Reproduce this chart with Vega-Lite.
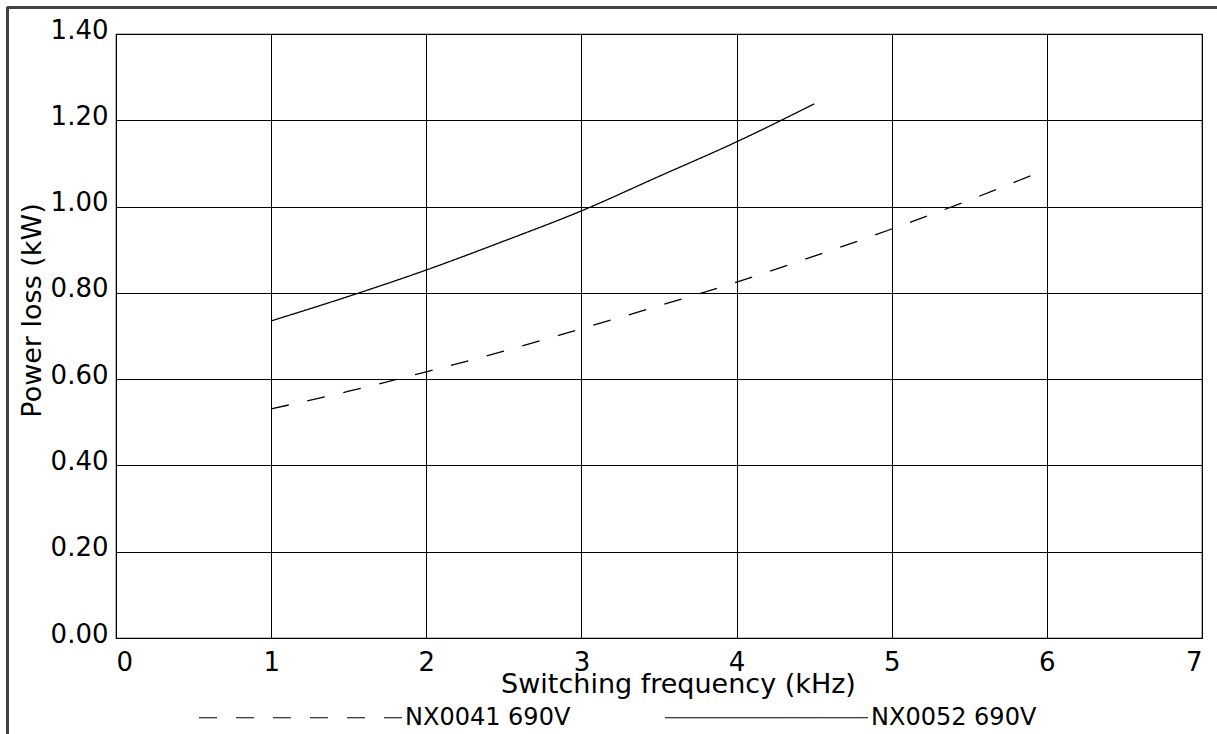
{
  "$schema": "https://vega.github.io/schema/vega-lite/v6.json",
  "width": 1086,
  "height": 604,
  "autosize": "none",
  "padding": {"left": 116, "top": 34, "right": 15, "bottom": 96},
  "background": "white",
  "config": {
    "font": "DejaVu Sans",
    "view": {"stroke": "black", "strokeWidth": 1.2},
    "axis": {
      "labelFont": "DejaVu Sans",
      "titleFont": "DejaVu Sans",
      "labelFontSize": 26,
      "titleFontSize": 27,
      "labelColor": "black",
      "titleColor": "black",
      "titleFontWeight": "normal",
      "gridColor": "black",
      "gridOpacity": 1,
      "gridWidth": 1,
      "domainColor": "black",
      "ticks": false
    },
    "legend": {
      "labelFont": "DejaVu Sans",
      "labelFontSize": 24,
      "labelColor": "black",
      "labelLimit": 500
    }
  },
  "data": {
    "values": [
      {"series": "NX0041 690V", "f": 1.0, "p": 0.531},
      {"series": "NX0041 690V", "f": 1.5, "p": 0.572},
      {"series": "NX0041 690V", "f": 2.0, "p": 0.617},
      {"series": "NX0041 690V", "f": 2.5, "p": 0.665},
      {"series": "NX0041 690V", "f": 3.0, "p": 0.717},
      {"series": "NX0041 690V", "f": 3.5, "p": 0.77},
      {"series": "NX0041 690V", "f": 4.0, "p": 0.825},
      {"series": "NX0041 690V", "f": 4.5, "p": 0.885},
      {"series": "NX0041 690V", "f": 5.0, "p": 0.948},
      {"series": "NX0041 690V", "f": 5.5, "p": 1.015},
      {"series": "NX0041 690V", "f": 5.94, "p": 1.078},
      {"series": "NX0052 690V", "f": 1.0, "p": 0.735},
      {"series": "NX0052 690V", "f": 1.5, "p": 0.792},
      {"series": "NX0052 690V", "f": 2.0, "p": 0.853},
      {"series": "NX0052 690V", "f": 2.5, "p": 0.92},
      {"series": "NX0052 690V", "f": 3.0, "p": 0.99},
      {"series": "NX0052 690V", "f": 3.5, "p": 1.07},
      {"series": "NX0052 690V", "f": 4.0, "p": 1.15},
      {"series": "NX0052 690V", "f": 4.5, "p": 1.238}
    ]
  },
  "layer": [
    {
      "mark": {"type": "line", "color": "black", "strokeWidth": 1.3, "interpolate": "monotone"},
      "encoding": {
        "x": {
          "field": "f", "type": "quantitative",
          "scale": {"domain": [0, 7], "nice": false},
          "axis": {
            "values": [0, 1, 2, 3, 4, 5, 6, 7],
            "format": "d",
            "title": "Switching frequency (kHz)",
            "labelPadding": 11,
            "labelBaseline": "top",
            "titleX": 562,
            "titleY": 54,
            "titleBaseline": "alphabetic",
            "titleAnchor": "middle",
            "domain": false
          }
        },
        "y": {
          "field": "p", "type": "quantitative",
          "scale": {"domain": [0, 1.4], "nice": false},
          "axis": {
            "values": [0, 0.2, 0.4, 0.6, 0.8, 1.0, 1.2, 1.4],
            "format": ".2f",
            "title": "Power loss (kW)",
            "labelPadding": 8,
            "labelOffset": -4,
            "titleX": -76,
            "titleY": 276,
            "titleAngle": -90,
            "titleBaseline": "alphabetic",
            "titleAnchor": "middle",
            "domain": false
          }
        },
        "detail": {"field": "series"},
        "strokeDash": {
          "field": "series", "type": "nominal",
          "scale": {"domain": ["NX0041 690V", "NX0052 690V"], "range": [[18, 19], [1, 0]]},
          "legend": {
            "title": null,
            "orient": "none",
            "direction": "horizontal",
            "legendX": 82,
            "legendY": 581,
            "symbolType": "stroke",
            "symbolSize": 41209,
            "symbolStrokeColor": "black",
            "symbolStrokeWidth": 1.2,
            "labelOffset": 2,
            "columnPadding": 91
          }
        }
      }
    },
    {
      "mark": {"type": "rule", "color": "#444", "strokeWidth": 2, "clip": false},
      "encoding": {
        "x": {"datum": -0.70},
        "y": {"datum": 1.462},
        "y2": {"datum": -0.25}
      }
    },
    {
      "mark": {"type": "rule", "color": "#444", "strokeWidth": 2, "clip": false},
      "encoding": {
        "x": {"datum": -0.70},
        "x2": {"datum": 7.2},
        "y": {"datum": 1.462}
      }
    }
  ]
}
